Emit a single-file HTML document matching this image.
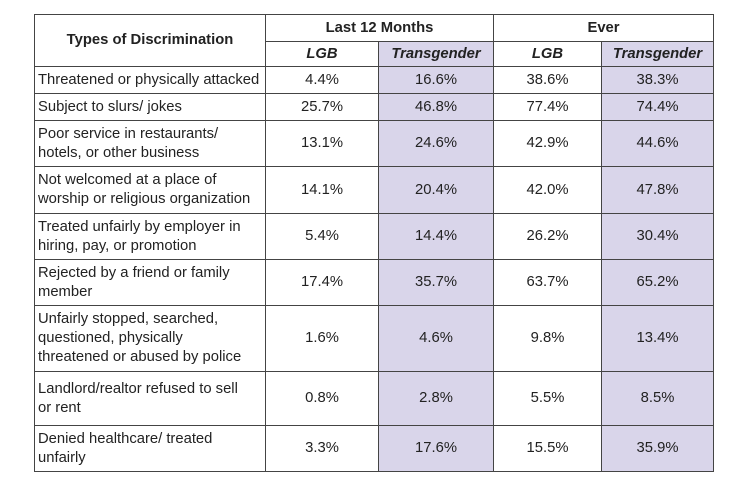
<!DOCTYPE html>
<html><head><style>
html,body{margin:0;padding:0;background:#fff;width:750px;height:487px;overflow:hidden}
table{position:absolute;left:34px;top:14px;border-collapse:collapse;font-family:"Liberation Sans",sans-serif;font-size:14.8px;color:#222;table-layout:fixed}
td,th{border:1px solid #444;padding:0 0 0 3px;line-height:19px;vertical-align:middle}
th{font-weight:bold;text-align:center;padding:0}
td.n{text-align:center;padding:0}
.p{background:#d9d5ea}
.i{font-style:italic}
</style></head><body>
<table>
<colgroup><col style="width:231px"><col style="width:113px"><col style="width:115px"><col style="width:108px"><col style="width:112px"></colgroup>
<tr style="height:27px"><th rowspan="2">Types of Discrimination</th><th colspan="2">Last 12 Months</th><th colspan="2">Ever</th></tr>
<tr style="height:25px"><th class="i">LGB</th><th class="i p">Transgender</th><th class="i">LGB</th><th class="i p">Transgender</th></tr>
<tr style="height:27px"><td>Threatened or physically attacked</td><td class="n">4.4%</td><td class="n p">16.6%</td><td class="n">38.6%</td><td class="n p">38.3%</td></tr>
<tr style="height:27px"><td>Subject to slurs/ jokes</td><td class="n">25.7%</td><td class="n p">46.8%</td><td class="n">77.4%</td><td class="n p">74.4%</td></tr>
<tr style="height:46px"><td>Poor service in restaurants/<br>hotels, or other business</td><td class="n">13.1%</td><td class="n p">24.6%</td><td class="n">42.9%</td><td class="n p">44.6%</td></tr>
<tr style="height:47px"><td>Not welcomed at a place of<br>worship or religious organization</td><td class="n">14.1%</td><td class="n p">20.4%</td><td class="n">42.0%</td><td class="n p">47.8%</td></tr>
<tr style="height:46px"><td>Treated unfairly by employer in<br>hiring, pay, or promotion</td><td class="n">5.4%</td><td class="n p">14.4%</td><td class="n">26.2%</td><td class="n p">30.4%</td></tr>
<tr style="height:46px"><td>Rejected by a friend or family<br>member</td><td class="n">17.4%</td><td class="n p">35.7%</td><td class="n">63.7%</td><td class="n p">65.2%</td></tr>
<tr style="height:66px"><td>Unfairly stopped, searched,<br>questioned, physically<br>threatened or abused by police</td><td class="n">1.6%</td><td class="n p">4.6%</td><td class="n">9.8%</td><td class="n p">13.4%</td></tr>
<tr style="height:54px"><td>Landlord/realtor refused to sell<br>or rent</td><td class="n">0.8%</td><td class="n p">2.8%</td><td class="n">5.5%</td><td class="n p">8.5%</td></tr>
<tr style="height:46px"><td>Denied healthcare/ treated<br>unfairly</td><td class="n">3.3%</td><td class="n p">17.6%</td><td class="n">15.5%</td><td class="n p">35.9%</td></tr>
</table>
</body></html>
